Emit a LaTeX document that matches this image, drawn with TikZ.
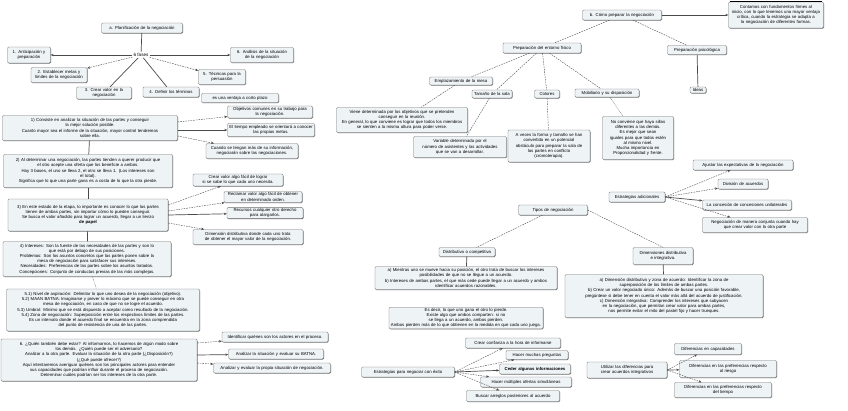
\documentclass[tikz,border=0pt]{standalone}
\usepackage{fontspec}
\setmainfont{Liberation Sans}
\usetikzlibrary{arrows.meta,shadows,calc}
\definecolor{boxfill}{HTML}{EEF3F6}
\definecolor{edge}{HTML}{707070}
\definecolor{ln}{HTML}{4A4A4A}
\tikzset{
 bx/.style={draw=edge, line width=0.35pt, fill=boxfill, rounded corners=1.2pt, align=center, inner sep=1pt,
   font=\fontsize{4.3}{5.2}\selectfont,
   drop shadow={shadow xshift=0.5pt, shadow yshift=-0.6pt, fill=black!60, opacity=1}},
 plain/.style={align=center, inner sep=1pt, font=\fontsize{4.6}{5.4}\selectfont},
 dl/.style={draw=ln, line width=0.4pt, dash pattern=on 1.6pt off 1pt},
 sl/.style={draw=ln, line width=0.7pt},
 dt/.style={draw=ln, line width=0.4pt, dash pattern=on 0.5pt off 0.8pt},
 ar/.style={-{Stealth[length=3pt,width=2.4pt]}},
}
\newcommand{\bxn}[6]{\node[bx, text width=#4pt, minimum height=#5pt] (#1) at (#2,#3) {#6};}
\begin{document}
\begin{tikzpicture}[x=1pt,y=-1pt]
\useasboundingbox (0,0) rectangle (848,410);
\fill[white] (0,0) rectangle (848,410);

% ---------------- left part ----------------
\bxn{pa}{142}{28}{79}{10}{a. Planificación de la negociación}
\node[plain] (fases) at (141,55) {6 fases};
\bxn{f1}{29}{55}{41}{16}{1. Anticipación y\\ preparación}
\bxn{f6}{262}{55}{61}{15}{6. Análisis de la situación\\ de la negociación}
\bxn{f2}{59}{75}{54}{15}{2. Establecer metas y\\ límites de la negociación}
\bxn{f5}{222}{77}{45}{15}{5. Técnicas para la\\ persuasión}
\bxn{f3}{104}{93}{53}{12}{3. Crear valor en la\\ negociación}
\bxn{f4}{171}{92}{54}{10}{4. Definir los términos}
\bxn{cp}{240}{98}{75}{9}{es una ventaja a corto plazo}

\bxn{b1}{90}{128}{173}{25}{1) Consiste en analizar la situación de las partes y conseguir\\ la mejor solución posible.\\ Cuanto mayor sea el informe de la situación, mayor control tendremos\\ sobre ella.}
\bxn{o1}{270}{112}{83}{12}{Objetivos comunes en su trabajo para\\ la negociación.}
\bxn{o2}{271}{130}{85}{13}{El tiempo empleado se orientará a conocer\\ las propias metas.}
\bxn{o3}{252}{151}{90}{15}{Cuando se tengan más de su información,\\ negociarán sobre las negociaciones.}

\bxn{b2}{88}{171}{167}{33}{2) Al determinar una negociación, las partes tienden a querer producir que\\ el otro acepte una oferta que los beneficie a ambos.\\ Hay 3 bases, el uno se lleva 2, el otro se lleva 1. (Los intereses son\\ el total).\\ Significa que lo que una parte gana es a costa de lo que la otra pierde.}

\bxn{b3}{88}{215}{158}{32}{3) En este estado de la etapa, lo importante es conocer lo que las partes\\ tienen de ambas partes, sin importar cómo lo pueden conseguir.\\ Se busca el valor añadido para lograr un acuerdo, llegar a un lienzo\\ \textbf{de papel}}
\bxn{c1}{238}{180}{88}{12}{Crear valor algo fácil de lograr\\ si se sabe lo que cada uno necesita.}
\bxn{c2}{263}{197}{76}{11}{Reclamar valor algo fácil de obtener\\ en determinado orden.}
\bxn{c3}{265}{213}{74}{11}{Recursos cualquier otro derecho\\ para alargarlos.}
\bxn{c4}{248}{237}{108}{15}{Dimensión distributiva donde cada uno trata\\ de obtener el mayor valor de la negociación.}

\bxn{b4}{87}{259}{166}{35}{4) Intereses: Son la fuente de las necesidades de las partes y son lo\\ que está por debajo de sus posiciones.\\ Problemas: Son los asuntos concretos que las partes ponen sobre la\\ mesa de negociación para satisfacer sus intereses.\\ Necesidades: Preferencias de las partes sobre los asuntos tratados.\\ Concepciones: Conjunto de conductas previas de las más complejas.}

\bxn{b5}{103}{310}{191}{42}{5.1) Nivel de aspiración: Delimitar lo que uno desea de la negociación (objetivo).\\ 5.2) MAAN BATNA: Imaginarse y prever lo máximo que se puede conseguir en otra\\ mesa de negociación, en caso de que no se logre el acuerdo.\\ 5.3) Umbral: Mínimo que se está dispuesto a aceptar como resultado de la negociación.\\ 5.4) Zona de negociación: Superposición entre los respectivos límites de las partes.\\ Es un intervalo donde el acuerdo final se encuentra en la zona comprendida\\ del punto de resistencia de una de las partes.}

\bxn{b6}{99}{360}{194}{42}{6. ¿Quién también debe estar? Al informarnos, lo hacemos de algún modo sobre\\ los demás. ¿Quién puede ser el adversario?\\ Analizar a la otra parte. Evaluar la situación de la otra parte (¿Disposición?)\\ (¿Qué puede ofrecer?)\\ Aquí intentaremos averiguar quiénes son los principales actores para entender\\ sus capacidades que podrían influir durante el proceso de negociación.\\ Determinar cuáles podrían ser los intereses de la otra parte.}
\bxn{t1}{275}{337}{104}{10}{Identificar quiénes son los actores en el proceso.}
\bxn{t2}{276}{354}{93}{10}{Analizar la situación y evaluar su BATNA.}
\bxn{t3}{272}{368}{115}{10}{Analizar y evaluar la propia situación de negociación.}

% ---------------- right part ----------------
\bxn{pb}{622}{15}{77}{10}{b. Cómo preparar la negociación}
\bxn{ct}{776}{15}{93}{26}{Contamos con fundamentos firmes al\\ inicio, con lo que tenemos una mayor ventaja\\ crítica, cuando la estrategia se adapta a\\ la negociación de diferentes formas.}
\draw[line width=1.1pt, black] ($(ct.north west)+(1.2,0)$) -- ($(ct.north east)+(-1.2,0)$);
\bxn{pe}{542}{48}{76}{10}{Preparación del entorno físico}
\bxn{pp}{697}{50}{57}{9}{Preparación psicológica}
\bxn{id}{698}{90}{14}{6}{Ideas}
\bxn{em}{461}{81}{61}{8}{Emplazamiento de la mesa}
\bxn{ts}{492}{94}{38}{8}{Tamaño de la sala}
\bxn{co}{547}{94}{23}{8}{Colores}
\bxn{mo}{607}{93}{62}{8}{Mobiliario y su disposición}
\bxn{vd}{402}{120}{129}{25}{Viene determinada por los objetivos que se pretenden\\ conseguir en la reunión.\\ En general, lo que conviene es lograr que todos los miembros\\ se sienten a la misma altura para poder verse.}
\bxn{va}{460}{147}{91}{21}{Variable determinada por el\\ número de asistentes y las actividades\\ que se van a desarrollar.}
\bxn{av}{549}{146}{80}{32}{A veces la forma y tamaño se han\\ convertido en un potencial\\ obstáculo para preparar la sala de\\ las partes en conflicto\\ (cromoterapia).}
\bxn{nc}{638}{138}{69}{43}{No conviene que haya sillas\\ diferentes a las demás.\\ Es mejor que sean\\ iguales para que todos estén\\ al mismo nivel.\\ Mucha importancia en\\ Proporcionalidad y frente.}

\bxn{ea}{637}{197}{54}{10}{Estrategias adicionales}
\bxn{a1}{743}{165}{98}{10}{Ajustar las expectativas de la negociación}
\bxn{a2}{743}{184}{48}{10}{División de acuerdos}
\bxn{a3}{747}{205}{87}{10}{La concesión de concesiones unilaterales}
\bxn{a4}{755}{225}{103}{15}{Negociación de manera conjunta cuando hay\\ que crear valor con la otra parte}

\bxn{tn}{553}{210}{67}{10}{Tipos de negociación}
\bxn{dc}{467}{252}{54}{9}{Distributiva o competitiva}
\bxn{di}{663}{256}{58}{17}{Dimensiones distributiva\\ e integrativa.}
\bxn{m1}{466}{278}{180}{23}{a) Mientras uno se mueve hacia su posición, el otro trata de buscar los intereses\\ posibilidades de que no se llegue a un acuerdo.\\ b) Intereses de ambas partes, el que más cede puede llegar a un acuerdo y ambos\\ identificar acuerdos razonables.}
\bxn{m2}{664}{296}{196}{43}{a) Dimensión distributiva y zona de acuerdo: Identificar la zona de\\ superposición de los límites de ambas partes.\\ b) Crear un valor negociado único: Además de buscar una posición favorable,\\ pregúntese si debe tener en cuenta el valor más allá del acuerdo de justificación.\\ c) Dimensión integrativa: Comprender los intereses que subyacen\\ en la negociación, que permitan crear valor para ambas partes,\\ nos permite evitar el mito del pastel fijo y hacer trueques.}
\bxn{m3}{466}{318}{152}{21}{Es decir, lo que uno gana el otro lo pierde.\\ Existe algo que ambos comparten: si no se llega a un acuerdo, ambos pierden.\\ Ambos pierden más de lo que obtienen en la medida en que cada uno juega.}

\bxn{ep}{408}{372}{91}{10}{Estrategias para negociar con éxito}
\bxn{s1}{513}{343}{93}{10}{Crear confianza a la hora de informarse}
\bxn{s2}{537}{355}{60}{9}{Hacer muchas preguntas}
\bxn{s3}{535}{369}{69}{10}{\textbf{Ceder algunas informaciones}}
\bxn{s4}{526}{382}{89}{10}{Hacer múltiples ofertas simultáneas}
\bxn{s5}{513}{396}{91}{11}{Buscar arreglos posteriores al acuerdo}
\bxn{ut}{627}{370}{78}{16}{Utilizar las diferencias para\\ crear acuerdos integrativos}
\bxn{d1}{708}{349}{65}{11}{Diferencias en capacidades}
\bxn{d2}{728}{369}{95}{17}{Diferencias en las preferencias respecto\\ al riesgo}
\bxn{d3}{723}{390}{95}{15}{Diferencias en las preferencias respecto\\ del tiempo}

% ---------------- connectors ----------------
\draw[sl] (fases) -- (pa);
\draw[sl,ar] (fases) -- (f1);
\draw[sl,ar] (fases) -- (f6);
\draw[dl,ar] (fases) -- (f2);
\draw[dl,ar] (fases) -- (f5);
\draw[sl] (fases) -- (f3);
\draw[sl] (fases) -- (f4);

\draw[dl,ar] ($(b1.east)+(0,-6)$) -- (o1);
\draw[sl,ar] ($(b1.east)+(0,2)$) -- (o2);
\draw[dl,ar] ($(b1.east)+(0,8)$) -- (o3);
\draw[sl] (b1) -- (b2);
\draw[sl] (b2) -- (b3);
\draw[sl] (b3) -- (b4);
\draw[dt] (b4) -- (b5);
\draw[dl,ar] ($(b3.east)+(0,-10)$) -- (c1);
\draw[dl,ar] ($(b3.east)+(0,-4)$) -- (c2);
\draw[sl,ar] ($(b3.east)+(0,0)$) -- (c3);
\draw[dl,ar] ($(b3.east)+(0,8)$) -- (c4);
\draw[dl,ar] ($(b6.east)+(0,-17)$) -- (t1);
\draw[sl,ar] ($(b6.east)+(0,-5)$) -- (t2);
\draw[dl,ar] ($(b6.east)+(0,3)$) -- (t3);

\draw[sl,ar] (pb) -- (ct);
\draw[dl] (pb) -- (pe);
\draw[dl] (pb) -- (pp);
\draw[sl] (pp) -- (id);
\draw[dl] (pe) -- (em);
\draw[dl] (pe) -- (ts);
\draw[dl] (pe) -- (co);
\draw[dl] (pe) -- (mo);
\draw[dl] (em) -- (vd);
\draw[dl] (ts) -- (va);
\draw[dl] (co) -- (av);
\draw[dt] (mo) -- (nc);

\draw[dl,ar] (ea.east) -- (a1);
\draw[dl,ar] (ea.east) -- (a2);
\draw[sl,ar] (ea.east) -- (a3);
\draw[dl,ar] (ea.east) -- (a4);

\draw[dl] (tn) -- (dc);
\draw[dl] (tn.east) -- (di.north);
\draw[sl] (dc) -- (m1);
\draw[sl] (di) -- (m2);

\draw[dl,ar] (ep.east) -- (s1);
\draw[dl,ar] (ep.east) -- (s2);
\draw[sl,ar] (ep.east) -- (s3);
\draw[dl,ar] (ep.east) -- (s4);
\draw[dl,ar] (ep.east) -- (s5);

\draw[dl,ar] (ut.east) -- (d1);
\draw[sl,ar] (ut.east) -- (d2);
\draw[dl,ar] (ut.east) -- (d3);
\end{tikzpicture}
\end{document}
